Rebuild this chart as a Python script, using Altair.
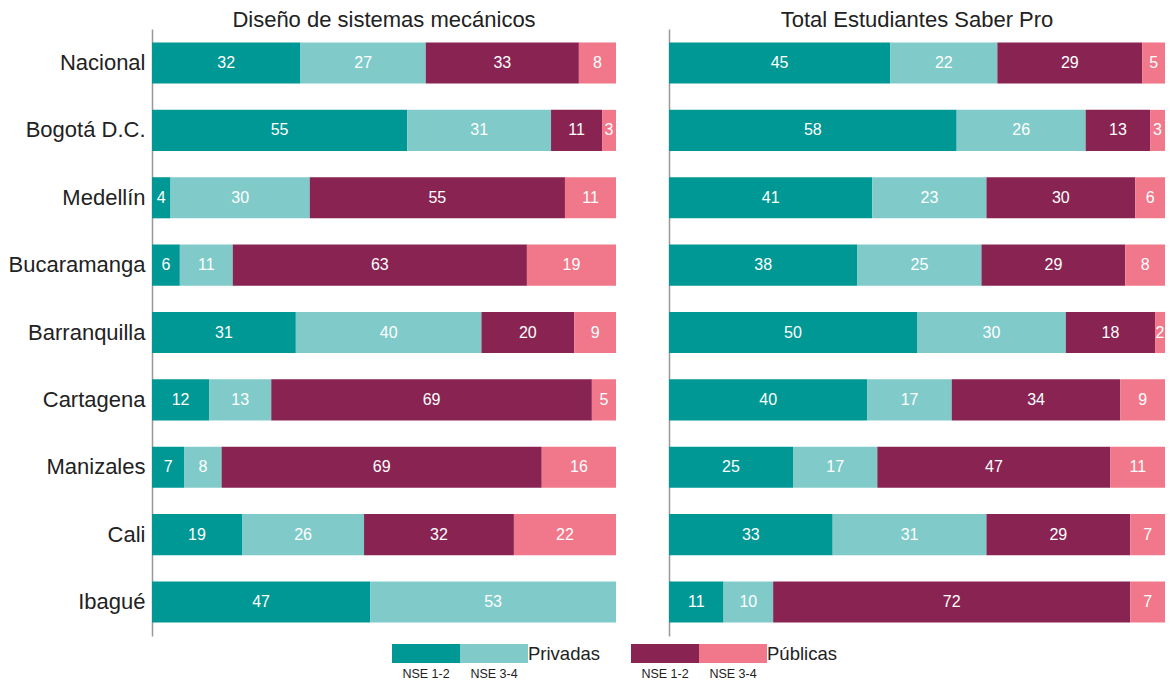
import altair as alt
import pandas as pd

cities = ["Nacional", "Bogotá D.C.", "Medellín", "Bucaramanga", "Barranquilla",
          "Cartagena", "Manizales", "Cali", "Ibagué"]
segments = ["Privadas NSE 1-2", "Privadas NSE 3-4", "Públicas NSE 1-2", "Públicas NSE 3-4"]
colors = ["#009894", "#80cbca", "#892452", "#f0788a"]

# Diseño de sistemas mecánicos (%)
dis_priv12 = [32, 55, 4, 6.0, 31, 12.3, 7, 19.4, 47]
dis_priv34 = [27, 31, 30, 11.4, 40, 13.4, 8, 26.3, 53]
dis_pub12 = [33, 11, 55, 63.4, 20, 69.1, 69, 32.3, 0]
dis_pub34 = [8, 3, 11, 19.2, 9, 5.2, 16, 22.0, 0]

# Total Estudiantes Saber Pro (%)
tot_priv12 = [44.6, 58, 41, 38, 50, 40, 25, 33, 11]
tot_priv34 = [21.6, 26, 23, 25, 30, 17, 17, 31, 10]
tot_pub12 = [29.2, 13, 30, 29, 18, 34, 47, 29, 72]
tot_pub34 = [4.6, 3, 6, 8, 2, 9, 11, 7, 7]

legend_groups = ["Privadas", "Públicas"]
legend_subs = ["NSE 1-2", "NSE 3-4"]

FONT = "Liberation Sans"
TXT = "#222222"


def make_df(series):
    rows = []
    for i, c in enumerate(cities):
        start = 0.0
        for k, seg in enumerate(segments):
            v = series[k][i]
            if v > 0:
                rows.append(dict(city=c, seg=seg, start=start, end=start + v,
                                 mid=start + v / 2, value=v))
            start += v
    return pd.DataFrame(rows)


def panel(df, title, width, dmax, show_labels):
    xs = alt.Scale(domain=[0, dmax], nice=False, zero=True)
    if show_labels:
        yaxis = alt.Axis(title=None, ticks=False, labelFontSize=22, labelFont=FONT,
                         labelColor=TXT, labelPadding=7, domainColor="#999999",
                         domainWidth=1.5, labelLimit=300)
    else:
        yaxis = alt.Axis(title=None, ticks=False, labels=False, domainColor="#999999",
                         domainWidth=1.5)
    y = alt.Y("city:N", sort=cities,
              scale=alt.Scale(paddingInner=0.39, paddingOuter=0.2), axis=yaxis)
    base = alt.Chart(df)
    bars = base.mark_bar(clip=True).encode(
        x=alt.X("start:Q", scale=xs, axis=None),
        x2="end:Q",
        y=y,
        color=alt.Color("seg:N", scale=alt.Scale(domain=segments, range=colors), legend=None),
    )
    text = base.mark_text(color="white", fontSize=16, font=FONT, clip=True).encode(
        x=alt.X("mid:Q", scale=xs, axis=None),
        y=y,
        text=alt.Text("value:Q", format=".0f"),
    )
    return alt.layer(bars, text).properties(
        width=width, height=607,
        title=alt.TitleParams(title, fontSize=22, font=FONT, fontWeight="normal",
                              color=TXT, anchor="middle", offset=-3),
    )


left = panel(make_df([dis_priv12, dis_priv34, dis_pub12, dis_pub34]),
             "Diseño de sistemas mecánicos", 464, 100, True)
right = panel(make_df([tot_priv12, tot_priv34, tot_pub12, tot_pub34]),
              "Total Estudiantes Saber Pro", 496, 100, False)

# custom legend layout (origin = left edge of the left plot area)
group_x0 = [240, 479]
box_w = 68
box_rows, group_rows = [], []
for gi, g in enumerate(legend_groups):
    x0 = group_x0[gi]
    for si, s in enumerate(legend_subs):
        box_rows.append(dict(seg=segments[gi * 2 + si], sub=s,
                             x0=x0 + si * box_w, x1=x0 + (si + 1) * box_w,
                             xc=x0 + si * box_w + box_w / 2))
    group_rows.append(dict(group=g, x=x0 + 2 * box_w))
box_df = pd.DataFrame(box_rows)
group_df = pd.DataFrame(group_rows)
lx = alt.Scale(domain=[0, 800], nice=False, zero=True)

leg_boxes = alt.Chart(box_df).mark_rect().encode(
    x=alt.X("x0:Q", scale=lx, axis=None), x2="x1:Q",
    y=alt.value(0), y2=alt.value(19),
    color=alt.Color("seg:N", scale=alt.Scale(domain=segments, range=colors), legend=None),
)
leg_subs = alt.Chart(box_df).mark_text(fontSize=12.5, font=FONT, color=TXT, baseline="middle").encode(
    x=alt.X("xc:Q", scale=lx, axis=None), y=alt.value(30), text="sub:N",
)
leg_groups = alt.Chart(group_df).mark_text(fontSize=18.5, font=FONT, color=TXT, align="left",
                                           baseline="middle").encode(
    x=alt.X("x:Q", scale=lx, axis=None), y=alt.value(10), text="group:N",
)
legend = alt.layer(leg_boxes, leg_subs, leg_groups).properties(width=800, height=19)

chart = alt.vconcat(
    alt.hconcat(left, right, spacing=53),
    legend,
    spacing=8,
).properties(
    padding={"left": 0, "top": 1, "right": 0, "bottom": 0}
).configure_view(stroke=None)

chart.save("out.html", embed_options={"renderer": "svg", "actions": False})
